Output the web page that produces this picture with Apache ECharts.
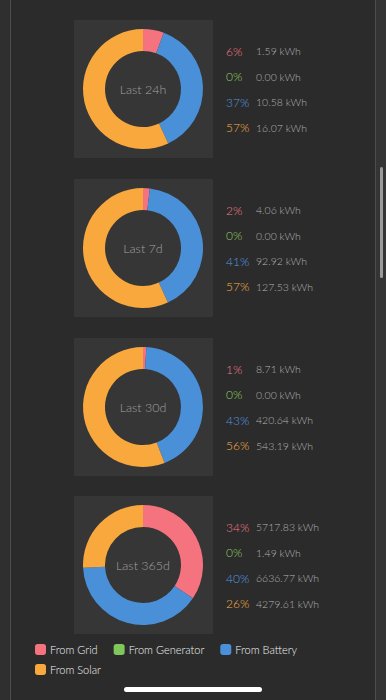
<!DOCTYPE html>
<html>
<head>
<meta charset="utf-8">
<script src="https://cdn.jsdelivr.net/npm/echarts@6/dist/echarts.min.js"></script>
<style>
html,body{margin:0;padding:0;background:#2f2f2f;}
#c{width:386px;height:700px;}
</style>
</head>
<body>
<div id="c"></div>
<script>
var categories = ['From Grid', 'From Generator', 'From Battery', 'From Solar'];
var periods = ['Last 24h', 'Last 7d', 'Last 30d', 'Last 365d'];
var kwh24h = [1.59, 0.00, 10.58, 16.07];
var kwh7d = [4.06, 0.00, 92.92, 127.53];
var kwh30d = [8.71, 0.00, 420.64, 543.19];
var kwh365d = [5717.83, 1.49, 6636.77, 4279.61];
var pct24h = ['6%', '0%', '37%', '57%'];
var pct7d = ['2%', '0%', '41%', '57%'];
var pct30d = ['1%', '0%', '43%', '56%'];
var pct365d = ['34%', '0%', '40%', '26%'];

var colors = ['#f4737f', '#7fc65b', '#4a90d9', '#f8a83c'];
var pctColors = ['#f27a8a', '#90cc62', '#559ae0', '#f8ae44'];
var font = 'Lato, "Open Sans", sans-serif';

var allKwh = [kwh24h, kwh7d, kwh30d, kwh365d];
var allPct = [pct24h, pct7d, pct30d, pct365d];
var centersY = [89, 248, 407, 565];
var cx = 143;

var series = [];
var graphics = [];
graphics.push({type:'rect', shape:{x:10.5,y:-2,width:365,height:704}, style:{fill:'#2b2b2b', stroke:'#4d4d4d', lineWidth:1}, z:0});
graphics.push({type:'rect', shape:{x:376,y:0,width:10,height:700}, style:{fill:'#343434'}, z:0});
graphics.push({type:'rect', shape:{x:380,y:167,width:3,height:111,r:1.5}, style:{fill:'#9a9a9a'}, z:1});
graphics.push({type:'rect', shape:{x:124,y:687,width:138,height:5,r:2.5}, style:{fill:'#ffffff'}, z:5});

allKwh.forEach(function(vals, i){
  var cy = centersY[i];
  graphics.push({type:'rect', shape:{x:74,y:cy-69,width:139,height:138}, style:{fill:'#363636'}, z:1});
  graphics.push({type:'text', x:cx, y:cy, z:10, style:{text:periods[i], fill:'#a0a0a0', font:'300 12.5px ' + font, align:'center', verticalAlign:'middle'}});
  for (var k = 0; k < 4; k++) {
    var ry = cy - 38 + k * 25.5;
    graphics.push({type:'text', x:226, y:ry, z:10, style:{text:allPct[i][k], fill:pctColors[k], font:'300 12px ' + font, verticalAlign:'middle'}});
    graphics.push({type:'text', x:256, y:ry, z:10, style:{text:vals[k].toFixed(2) + ' kWh', fill:'#b2b2b2', font:'300 10.5px ' + font, verticalAlign:'middle'}});
  }
  series.push({
    type:'pie', center:[cx, cy], radius:[38, 60], startAngle:90, clockwise:true,
    label:{show:false}, labelLine:{show:false}, silent:true, avoidLabelOverlap:false,
    itemStyle:{borderWidth:0}, z:5,
    data: categories.map(function(c, k){ return {name:c, value:vals[k]}; })
  });
});

var chart = echarts.init(document.getElementById('c'), null, {renderer:'svg'});
var legendBase = {
  orient:'horizontal', icon:'roundRect', itemWidth:11, itemHeight:11, itemGap:16,
  textStyle:{color:'#f2f2f2', fontSize:11, fontWeight:300, fontFamily:font, padding:[0,0,0,-1]},
  selectedMode:false
};
chart.setOption({
  backgroundColor:'#2f2f2f',
  color: colors,
  animation:false,
  legend:[
    Object.assign({}, legendBase, {left:30, top:639, data:categories.slice(0,3)}),
    Object.assign({}, legendBase, {left:30, top:659, data:categories.slice(3)})
  ],
  graphic: graphics,
  series: series
});
</script>
</body>
</html>
